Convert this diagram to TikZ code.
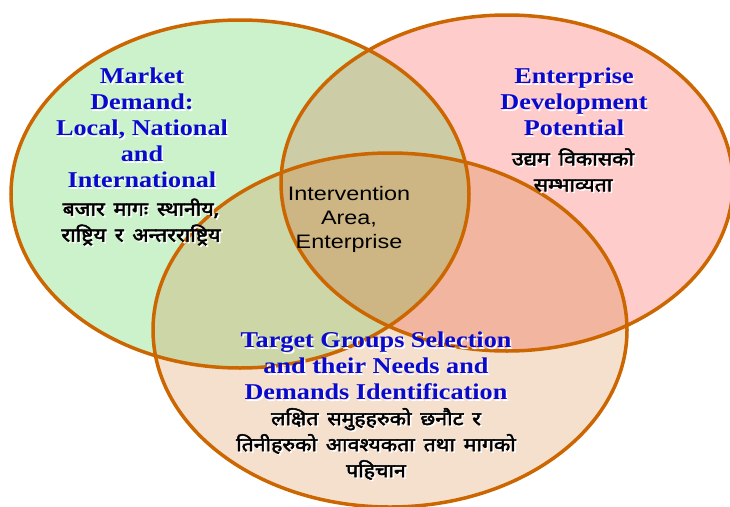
\documentclass[tikz,border=0pt]{standalone}
\usepackage{fontspec}
\newfontfamily\titlefont{Liberation Serif}[FakeStretch=1.16]
\newfontfamily\devfont{Noto Sans}[Script=Devanagari,FakeStretch=1.12,FakeBold=2.5,WordSpace=1.6]
\newfontfamily\midfont{Liberation Sans}[FakeStretch=1.2]
\definecolor{cgreen}{RGB}{204,242,204}
\definecolor{cpink}{RGB}{255,204,204}
\definecolor{cpeach}{RGB}{245,224,206}
\definecolor{cgp}{RGB}{204,204,166}
\definecolor{cgt}{RGB}{205,214,166}
\definecolor{cpt}{RGB}{242,182,160}
\definecolor{call}{RGB}{205,182,132}
\definecolor{cring}{RGB}{204,102,0}
\definecolor{tblue}{RGB}{10,10,205}
\newcommand\GE{(240,194) ellipse [x radius=229, y radius=174]}
\newcommand\PE{(507,183) ellipse [x radius=226, y radius=168]}
\newcommand\TE{(390,330) ellipse [x radius=237, y radius=177]}
\newcommand\shtext[4]{%
  \node[#1,text=white,xshift=1.5pt,yshift=-1.5pt] at (#2) {#4};
  \node[#1] (#3) at (#2) {#4};}
\begin{document}
\begin{tikzpicture}[x=1pt,y=-1pt,
  ring/.style={draw=cring,line width=3.5pt},
  title/.style={font=\titlefont\bfseries\fontsize{22.6}{26}\selectfont,text=tblue,align=center,inner sep=0pt},
  dev/.style={font=\devfont\fontsize{19}{26}\selectfont,text=black,align=center,inner sep=0pt},
  mid/.style={font=\midfont\fontsize{19.5}{24}\selectfont,text=black,align=center,inner sep=0pt}]
\useasboundingbox (0,0) rectangle (730,506);
\fill[cgreen] \GE;
\fill[cpink] \PE;
\fill[cpeach] \TE;
\begin{scope}\clip \GE; \fill[cgp] \PE; \end{scope}
\begin{scope}\clip \GE; \fill[cgt] \TE; \end{scope}
\begin{scope}\clip \PE; \fill[cpt] \TE; \end{scope}
\begin{scope}\clip \GE; \clip \PE; \fill[call] \TE; \end{scope}
\draw[ring] \GE;
\draw[ring] \PE;
\draw[ring] \TE;
\shtext{title}{142,128}{mtitle}{Market\\Demand:\\Local, National\\and\\International}
\shtext{dev}{141,222}{mdev}{बजार मागः स्थानीय,\\राष्ट्रिय र अन्तरराष्ट्रिय}
\shtext{title}{574,102}{etitle}{Enterprise\\Development\\Potential}
\shtext{dev}{573,170}{edev}{उद्यम विकासको\\सम्भाव्यता}
\shtext{title}{376,366}{ttitle}{Target Groups Selection\\and their Needs and\\Demands Identification}
\shtext{dev}{376,444}{tdev}{लक्षित समुहहरुको छनौट र\\तिनीहरुको आवश्यकता तथा मागको\\पहिचान}
\node[mid] (center) at (349,219) {Intervention\\Area,\\Enterprise};
\end{tikzpicture}
\end{document}
